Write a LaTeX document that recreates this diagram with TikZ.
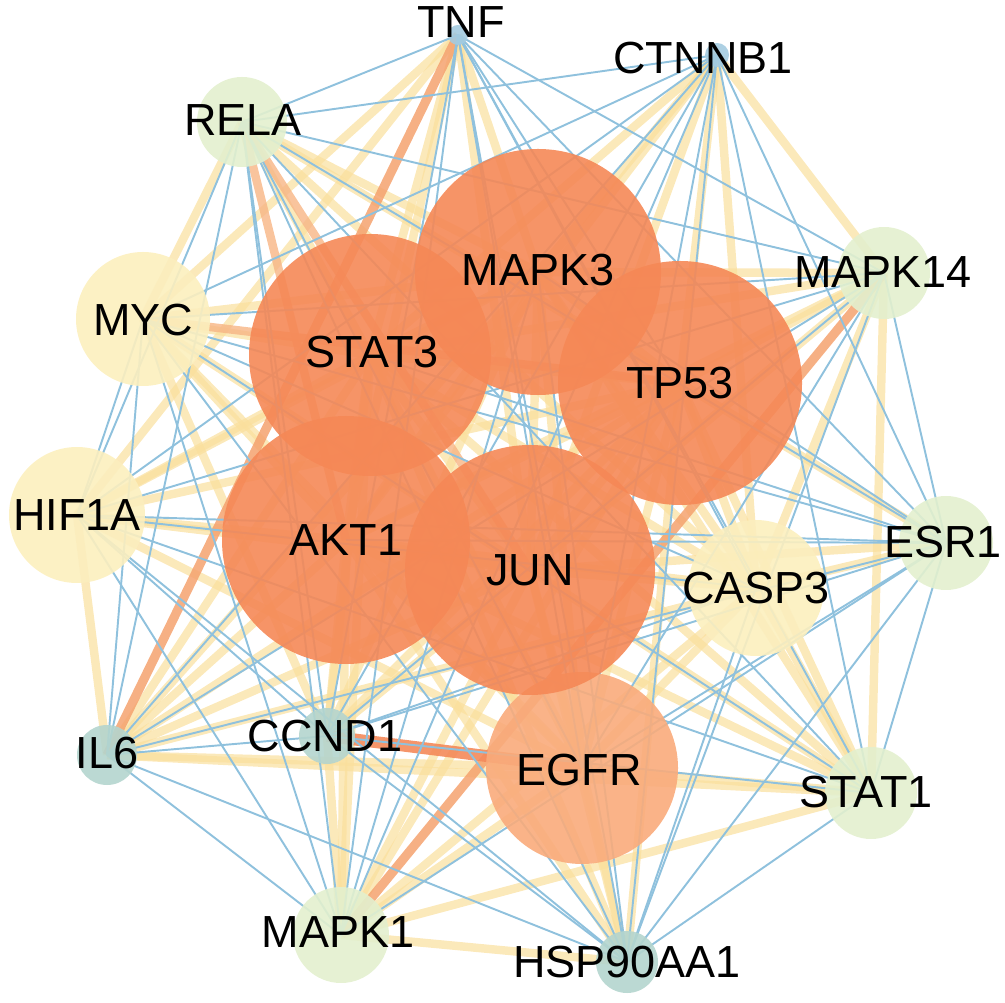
\documentclass[tikz,border=0pt]{standalone}
\usepackage{fontspec}
\setmainfont{Liberation Sans}
\pgfdeclarelayer{edges}
\pgfsetlayers{edges,main}
\definecolor{hubc}{HTML}{F58856}
\definecolor{egfrc}{HTML}{F9AB7B}
\definecolor{yelc}{HTML}{FCEFBE}
\definecolor{grnc}{HTML}{E3F0CE}
\definecolor{tealc}{HTML}{B4D5CE}
\definecolor{bluec}{HTML}{A4CBE0}
\definecolor{eblue}{HTML}{8FC1DD}
\definecolor{eyel}{HTML}{FADF9C}
\definecolor{eorl}{HTML}{F7B585}
\definecolor{eor}{HTML}{F5A26F}
\definecolor{eord}{HTML}{F4895A}
\begin{document}
\begin{tikzpicture}[x=0.1mm,y=-0.1mm,
  nd/.style={circle,inner sep=0pt,fill opacity=0.9},
  hub/.style={nd,fill=hubc},
  ynode/.style={nd,fill=yelc},
  gnode/.style={nd,fill=grnc},
  tnode/.style={nd,fill=tealc},
  bnode/.style={nd,fill=bluec},
  lbl/.style={font=\fontsize{12.8}{15}\selectfont,inner sep=0pt,text=black},
  yedge/.style={draw=eyel,line width=2.4pt,draw opacity=0.7},
  oledge/.style={draw=eorl,line width=2.4pt,draw opacity=0.8},
  oedge/.style={draw=eor,line width=2.6pt,draw opacity=0.85},
  odedge/.style={draw=eord,line width=3.4pt,draw opacity=0.9},
  bedge/.style={draw=eblue,line width=0.55pt}]
\useasboundingbox (0,0) rectangle (1005,1002);
% peripheral nodes
\node[bnode,minimum size=2mm] (tnf) at (458,35) {};
\node[bnode,minimum size=2.4mm] (ctnnb) at (717,55) {};
\node[gnode,minimum size=9mm] (rela) at (242,122) {};
\node[gnode,minimum size=9.2mm] (mapk14) at (884,273) {};
\node[ynode,minimum size=13.4mm] (myc) at (143,319) {};
\node[ynode,minimum size=13.6mm] (hif) at (77,515) {};
\node[ynode,minimum size=13.6mm] (casp) at (756,588) {};
\node[gnode,minimum size=9.4mm] (esr) at (946,543) {};
\node[tnode,minimum size=6mm] (il6) at (107,755) {};
\node[tnode,minimum size=5.6mm] (ccnd) at (327,736) {};
\node[gnode,minimum size=9.2mm] (stat1) at (871,793) {};
\node[gnode,minimum size=9.6mm] (mapk1) at (341,935) {};
\node[tnode,minimum size=6.2mm] (hsp) at (627,962) {};
% hubs
\node[hub,minimum size=24.2mm] (stat3) at (370,355) {};
\node[hub,minimum size=24.6mm] (mapk3) at (538,272) {};
\node[hub,minimum size=24.4mm] (tp53) at (680,383) {};
\node[hub,minimum size=24.8mm] (akt) at (346,540) {};
\node[nd,fill=egfrc,minimum size=19.2mm] (egfr) at (582,768) {};
\node[hub,minimum size=25mm] (jun) at (530,570) {};
% labels
\node[lbl] (tnfl) at (461,22) {TNF};
\node[lbl] (ctnnbl) at (703,58) {CTNNB1};
\node[lbl] (relal) at (243,120) {RELA};
\node[lbl] (mapk14l) at (883,272) {MAPK14};
\node[lbl] (mycl) at (143,320) {MYC};
\node[lbl] (hifl) at (77,515) {HIF1A};
\node[lbl] (caspl) at (756,588) {CASP3};
\node[lbl] (esrl) at (943,542) {ESR1};
\node[lbl] (il6l) at (107,753) {IL6};
\node[lbl] (ccndl) at (325,736) {CCND1};
\node[lbl] (stat1l) at (866,792) {STAT1};
\node[lbl] (mapk1l) at (338,932) {MAPK1};
\node[lbl] (hspl) at (627,962) {HSP90AA1};
\node[lbl] (stat3l) at (372,352) {STAT3};
\node[lbl] (mapk3l) at (538,270) {MAPK3};
\node[lbl] (tp53l) at (680,383) {TP53};
\node[lbl] (aktl) at (346,540) {AKT1};
\node[lbl] (junl) at (530,570) {JUN};
\node[lbl] (egfrl) at (579,770) {EGFR};
\begin{pgfonlayer}{edges}
% thick yellow edges
\foreach \a/\b in {stat3/mapk3,stat3/tp53,stat3/akt,stat3/jun,stat3/egfr,mapk3/tp53,mapk3/akt,mapk3/jun,mapk3/egfr,tp53/akt,tp53/jun,tp53/egfr,akt/jun,akt/egfr,jun/egfr,
 tnf/stat3,tnf/mapk3,tnf/akt,tnf/jun,
 ctnnb/stat3,ctnnb/mapk3,ctnnb/tp53,ctnnb/akt,ctnnb/jun,
 rela/stat3,rela/mapk3,rela/tp53,
 myc/stat3,myc/mapk3,myc/akt,myc/jun,myc/egfr,
 hif/stat3,hif/mapk3,hif/tp53,hif/akt,hif/jun,hif/egfr,
 il6/stat3,il6/mapk3,il6/tp53,il6/akt,il6/jun,il6/egfr,
 ccnd/stat3,ccnd/mapk3,ccnd/tp53,ccnd/akt,ccnd/jun,
 mapk1/stat3,mapk1/tp53,mapk1/akt,mapk1/jun,mapk1/egfr,
 hsp/stat3,hsp/tp53,hsp/akt,hsp/jun,hsp/egfr,
 stat1/stat3,stat1/mapk3,stat1/tp53,stat1/akt,stat1/jun,stat1/egfr,
 esr/tp53,esr/jun,
 casp/stat3,casp/mapk3,casp/tp53,casp/akt,casp/jun,casp/egfr,
 mapk14/stat3,mapk14/mapk3,mapk14/tp53,mapk14/akt,mapk14/jun,
 tnf/myc,tnf/hif,ctnnb/casp,ctnnb/mapk14,rela/myc,rela/casp,myc/ccnd,hif/il6,il6/stat1,il6/casp,
 ccnd/mapk1,mapk1/hsp,mapk1/stat1,mapk1/casp,stat1/casp,stat1/mapk14,esr/casp,casp/mapk14}
  \draw[yedge] (\a.center) -- (\b.center);
% light orange edges
\foreach \a/\b in {rela/akt,rela/jun,myc/tp53}
  \draw[oledge] (\a.center) -- (\b.center);
% orange edges
\foreach \a/\b in {tnf/il6,mapk1/mapk14}
  \draw[oedge] (\a.center) -- (\b.center);
\draw[odedge] (ccnd.center) -- (egfr.center);
% thin blue edges
\foreach \a/\b in {tnf/tp53,tnf/egfr,ctnnb/egfr,rela/egfr,mapk1/mapk3,hsp/mapk3,esr/stat3,esr/mapk3,esr/akt,esr/egfr,mapk14/egfr,ctnnb/hif,
 tnf/rela,tnf/ccnd,tnf/mapk1,tnf/hsp,tnf/stat1,tnf/esr,tnf/casp,tnf/mapk14,
 ctnnb/rela,ctnnb/myc,ctnnb/il6,ctnnb/ccnd,ctnnb/mapk1,ctnnb/hsp,ctnnb/stat1,ctnnb/esr,
 rela/hif,rela/il6,rela/ccnd,rela/mapk1,rela/hsp,rela/stat1,rela/esr,rela/mapk14,
 myc/hif,myc/il6,myc/mapk1,myc/hsp,myc/stat1,myc/esr,myc/casp,myc/mapk14,
 hif/ccnd,hif/mapk1,hif/hsp,hif/stat1,hif/esr,hif/casp,hif/mapk14,
 il6/ccnd,il6/mapk1,il6/hsp,il6/esr,il6/mapk14,
 ccnd/hsp,ccnd/stat1,ccnd/esr,ccnd/casp,ccnd/mapk14,
 mapk1/esr,hsp/stat1,hsp/esr,hsp/casp,hsp/mapk14,stat1/esr,esr/mapk14}
  \draw[bedge] (\a.center) -- (\b.center);
\end{pgfonlayer}
\end{tikzpicture}
\end{document}
